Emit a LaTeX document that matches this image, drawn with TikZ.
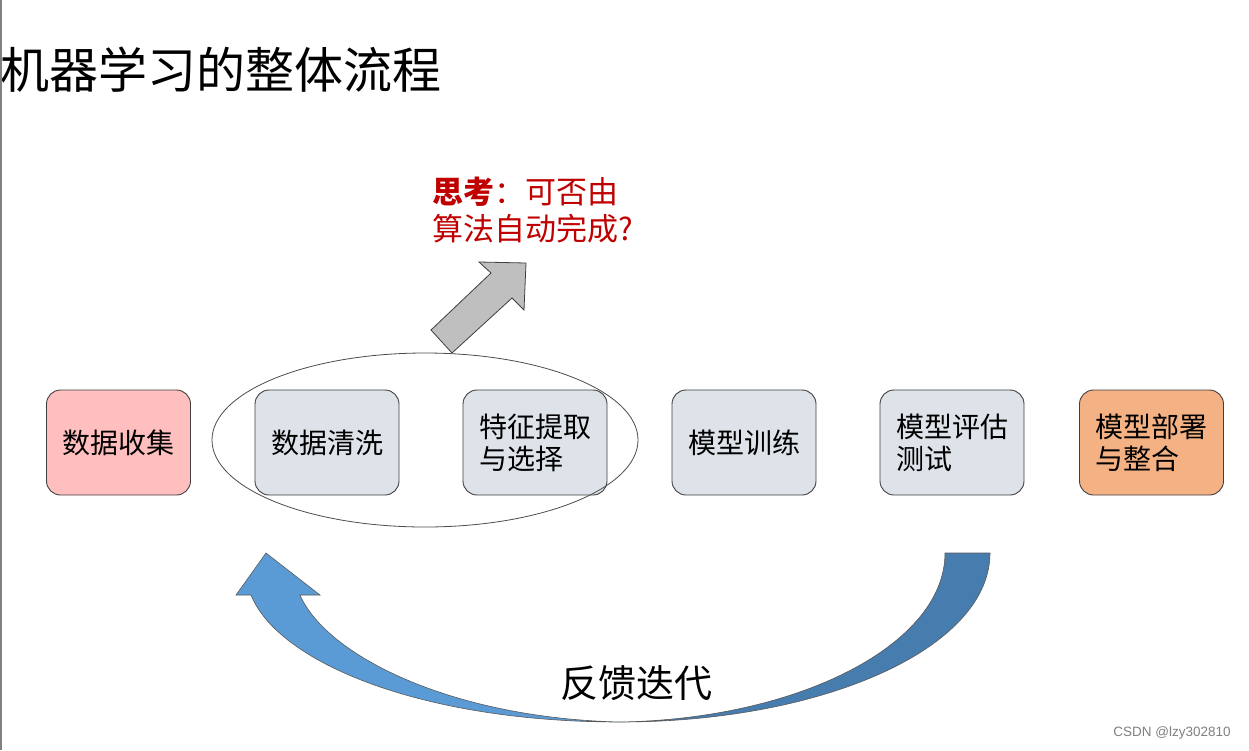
\documentclass[tikz,border=0pt]{standalone}
\usepackage{fontspec}
\setmainfont{Noto Sans CJK SC}
\newfontfamily\wmfont{Liberation Sans}
\usetikzlibrary{shapes.geometric}
\definecolor{pinkbox}{HTML}{FFBFBF}
\definecolor{graybox}{HTML}{DDE3E8}
\definecolor{orangebox}{HTML}{F4B183}
\definecolor{thinkred}{HTML}{C00000}
\definecolor{bluelight}{HTML}{5B9BD5}
\definecolor{bluedark}{HTML}{477CAE}
\definecolor{arrowgray}{HTML}{BFBFBF}
\begin{document}
\begin{tikzpicture}[x=1pt,y=-1pt,
  stepbox/.style={draw=black!75, line width=0.9pt, rounded corners=14pt,
    minimum width=144pt, minimum height=105pt, inner sep=0pt,
    font=\fontsize{28}{32}\selectfont, align=left},
  outl/.style={draw=black!65, line width=0.6pt}]
\useasboundingbox (0,0) rectangle (1249,750);
\fill[white] (0,0) rectangle (1249,750);

% title
\node[anchor=west, inner sep=0pt, font=\fontsize{49}{53}\selectfont] (title) at (0.5,70) {机器学习的整体流程};

% think text
\node[anchor=west, inner sep=0pt, align=left, text=thinkred,
  font=\fontsize{31}{37}\selectfont] (think) at (432,210)
  {{\bfseries 思考}：可否由\\算法自动完成?};

% steps
\node[stepbox, fill=pinkbox] (s1) at (118.5,442.5) {数据收集};
\node[stepbox, fill=graybox] (s2) at (327,442.5) {数据清洗};
\node[stepbox, fill=graybox] (s3) at (535,442.5) {特征提取\\与选择};
\node[stepbox, fill=graybox] (s4) at (744,442.5) {模型训练};
\node[stepbox, fill=graybox] (s5) at (952,442.5) {模型评估\\测试};
\node[stepbox, fill=orangebox] (s6) at (1151.5,442.5) {模型部署\\与整合};

% group ellipse
\node[ellipse, draw=black!70, line width=0.8pt, minimum width=426pt, minimum height=174pt, inner sep=0pt] (grp) at (425,440) {};

% gray block arrow
\draw[fill=arrowgray, draw=black!75, line width=0.8pt, line join=miter]
  (431,330) -- (452,353) -- (512,298) -- (524,310) -- (526,263)
  -- (479,262) -- (491,273) -- cycle;

% curved feedback arrow: dark tail part
\draw[fill=bluedark, outl]
  (990,553) .. controls (990,648) and (824,722) .. (620,722)
  .. controls (800,719) and (945,644) .. (945,553) -- cycle;
% light front part with head
\draw[fill=bluelight, outl, line join=miter]
  (620,722) .. controls (420,722) and (278,662) .. (251,595)
  -- (236,595) -- (266,553) -- (320,595) -- (300,595)
  .. controls (326,655) and (450,718) .. (620,722);

\node[inner sep=0pt, font=\fontsize{38}{42}\selectfont] (fb) at (636,683) {反馈迭代};

% watermark
\node[inner sep=0pt, text=black!50, font=\wmfont\fontsize{13.5}{15}\selectfont] (wm) at (1172,733) {CSDN @lzy302810};

% left edge line
\draw[black!50, line width=1.6pt] (0.8,0) -- (0.8,750);
\end{tikzpicture}
\end{document}
